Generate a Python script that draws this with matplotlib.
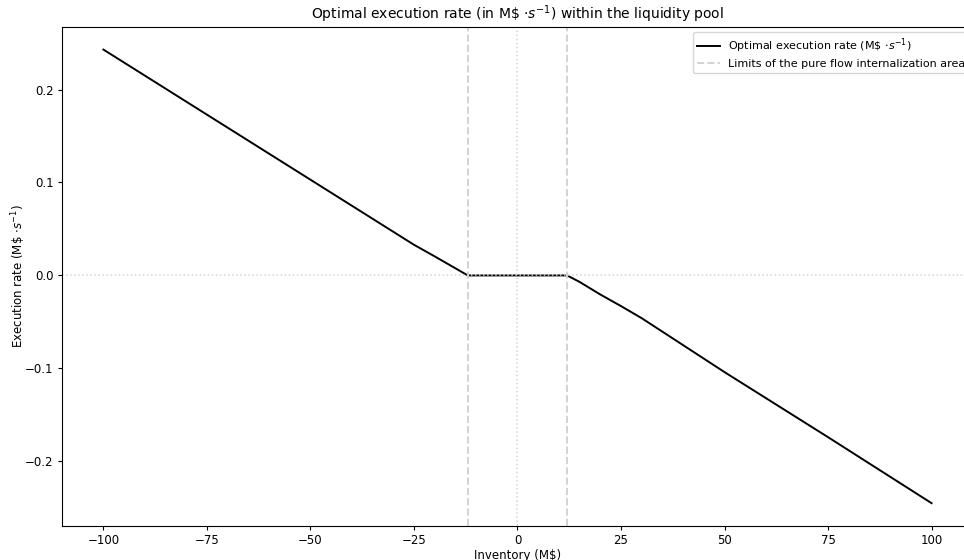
import numpy as np
import matplotlib
matplotlib.use("Agg")
import matplotlib.pyplot as plt

# Inventory (M$) and optimal execution rate (M$/s)
inventory = [-100, -75, -50, -30, -25, -20, -15, -12, 0, 12, 15, 20, 25, 30, 50, 75, 100]
rate = [0.243, 0.173, 0.103, 0.047, 0.033, 0.0205, 0.0077, 0.0, 0.0, 0.0,
        -0.007, -0.0205, -0.033, -0.046, -0.104, -0.174, -0.245]
limits = [-12, 12]

plt.rcParams["font.size"] = 8.5

fig = plt.figure(figsize=(9.64, 5.6), dpi=100)
ax = fig.add_axes([0.0643, 0.061, 0.945, 0.891])

ax.plot(inventory, rate, color="black", lw=1.4, label=r"Optimal execution rate (M\$ $\cdot s^{-1}$)")
ax.axvline(limits[0], color="lightgray", ls="--", lw=1.4,
           label="Limits of the pure flow internalization area")
ax.axvline(limits[1], color="lightgray", ls="--", lw=1.4)
ax.axvline(0, color="lightgray", ls=":", lw=1.1)
ax.axhline(0, color="lightgray", ls=":", lw=1.1)

ax.tick_params(length=3, pad=3)
ax.set_title(r"Optimal execution rate (in M\$ $\cdot s^{-1}$) within the liquidity pool", fontsize=10)
ax.set_xlabel(r"Inventory (M\$)", labelpad=1)
ax.set_ylabel(r"Execution rate (M\$ $\cdot s^{-1}$)", labelpad=-2)
ax.legend(loc="upper right", fontsize=8, labelspacing=0.3,
          bbox_to_anchor=(1.003, 1.0))

fig.savefig("out.png", dpi=100)
